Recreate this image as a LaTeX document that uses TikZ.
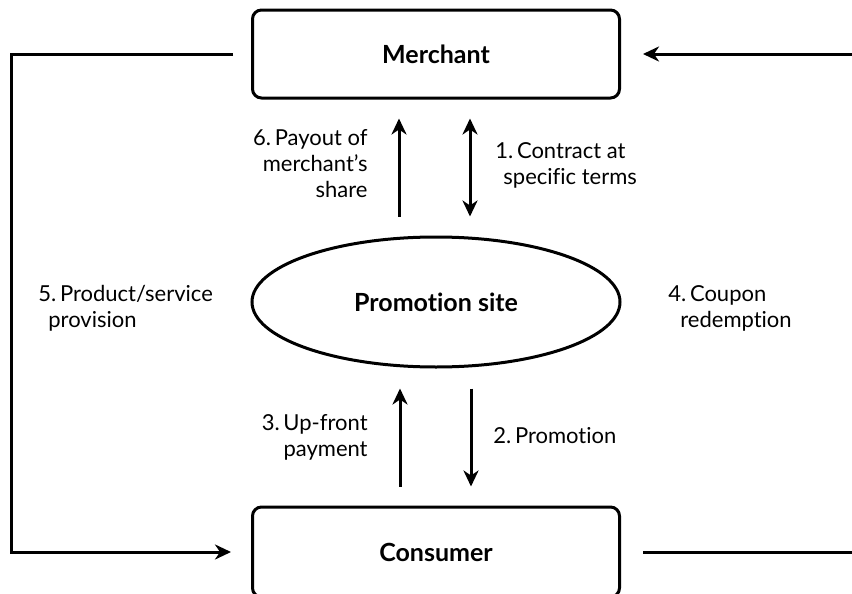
\documentclass[tikz,border=0pt]{standalone}
\usepackage{fontspec}
\setmainfont{Lato}[Ligatures={TeX,CommonOff}]
\usetikzlibrary{arrows.meta,shapes.geometric}

\begin{document}
\begin{tikzpicture}[x=0.5pt,y=-0.5pt,
    party/.style={draw,line width=1.5pt,rounded corners=4.5pt,minimum width=183.5pt,minimum height=44pt,font=\fontsize{12.5}{15}\selectfont\bfseries},
    flow/.style={line width=1.5pt,-{Stealth[length=8pt,width=7.5pt,inset=2.5pt]}},
    twoway/.style={line width=1.5pt,{Stealth[length=8pt,width=7.5pt,inset=2.5pt]}-{Stealth[length=8pt,width=7.5pt,inset=2.5pt]}},
    lbl/.style={font=\fontsize{11}{13}\selectfont,inner sep=0pt}]
  \useasboundingbox (0,0) rectangle (852,594);
  \node[party] (merchant) at (436,54) {Merchant};
  \node[party,minimum height=45pt] (consumer) at (436,552) {Consumer};
  \node[draw,ellipse,line width=1.5pt,minimum width=184pt,minimum height=65pt,font=\fontsize{12.5}{15}\selectfont\bfseries] (site) at (436,302) {Promotion site};
  \coordinate (rtop) at (852,54);
  \coordinate (rbot) at (852,552);

  % merchant <-> promotion site
  \draw[flow] ([xshift=-18.5pt,yshift=9.5pt]site.north) -- ([xshift=-18.5pt,yshift=-9.5pt]merchant.south);
  \draw[twoway] ([xshift=17pt,yshift=9.5pt]site.north) -- ([xshift=17pt,yshift=-9.5pt]merchant.south);
  % promotion site <-> consumer
  \draw[flow] ([xshift=-18pt,yshift=9.5pt]consumer.north) -- ([xshift=-18pt,yshift=-10pt]site.south);
  \draw[flow] ([xshift=17.5pt,yshift=-10pt]site.south) -- ([xshift=17.5pt,yshift=9.5pt]consumer.north);
  % outer loops
  \draw[flow] ([xshift=-9pt]merchant.west) -| ([xshift=-120pt]consumer.west) -- ([xshift=-10pt]consumer.west);
  \draw[flow] (rtop) -- ([xshift=11pt]merchant.east);
  \draw[line width=1.5pt] ([xshift=11pt]consumer.east) -- (rbot);

  \node[lbl,align=right,anchor=east] (payout) at (368,164) {6.\,Payout of\\merchant's\\share};
  \node[lbl,align=left,anchor=west] (contract) at (495,165) {1.\,Contract at\\\hspace*{4pt}specific terms};
  \node[lbl,align=left,anchor=west] (product) at (38,308) {5.\,Product/service\\\hspace*{5pt}provision};
  \node[lbl,align=left,anchor=west] (coupon) at (668,308) {4.\,Coupon\\\hspace*{6pt}redemption};
  \node[lbl,align=right,anchor=east] (upfront) at (368,437) {3.\,Up-front\\payment};
  \node[lbl,anchor=west] (promo) at (493,436) {2.\,Promotion};
\end{tikzpicture}
\end{document}
